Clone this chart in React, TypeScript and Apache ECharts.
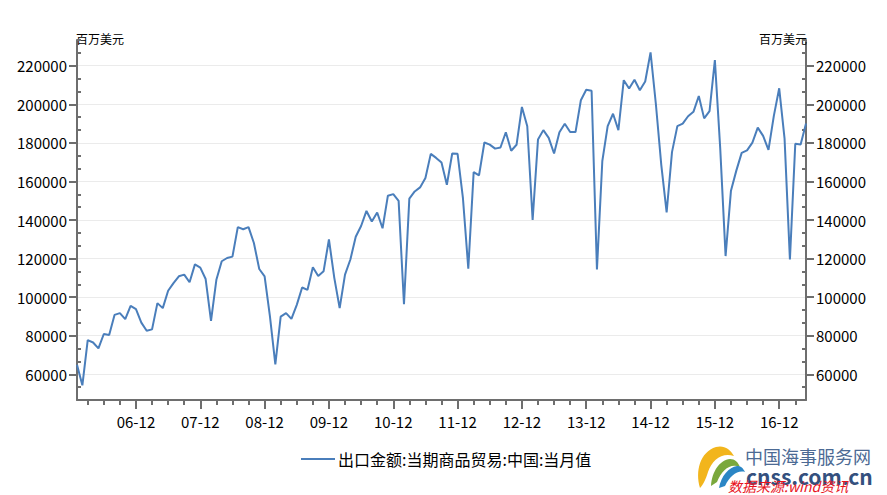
import React, { useEffect, useRef } from 'react';
import * as echarts from 'echarts';

const START_YEAR = 2006;
const SERIES_NAME = '出口金额:当期商品贸易:中国:当月值';
const UNIT = '百万美元';

// 百万美元, monthly from 2006-01 to 2017-05
const EXPORTS = [
  65000, 54300, 77700, 76500, 73400, 80900, 80400, 90800, 91700, 88600, 95500, 93800,
  86800, 82600, 83300, 96900, 94300, 103300, 107300, 110800, 111700, 107700, 117000, 115300,
  109400, 87700, 109000, 118600, 120300, 121000, 136300, 135200, 136300, 128100, 114600, 110800,
  89900, 65100, 89900, 91700, 88700, 96000, 105000, 103800, 115500, 111000, 113400, 129900,
  110000, 94300, 111700, 119500, 131300, 136900, 144700, 139200, 143900, 135700, 152600, 153400,
  149900, 96300, 151100, 154800, 156900, 161800, 174300, 172200, 169800, 158300, 174500, 174300,
  151300, 114800, 164800, 163100, 180200, 179100, 177000, 177600, 185500, 175900, 179000, 198600,
  188600, 140000, 181700, 186600, 182600, 174500, 185500, 189900, 185600, 185600, 202100, 207500,
  207000, 114300, 170500, 188700, 195100, 186600, 212500, 208200, 212700, 207300, 211800, 226900,
  199900, 168600, 143900, 175200, 188700, 190000, 193800, 196100, 204300, 192700, 196500, 222900,
  177000, 121300, 155200, 165600, 174800, 176100, 180100, 187900, 183600, 176400, 194000, 208300,
  182200, 119500, 179500, 179200, 190000,
];

const MAJOR_TICKS = [60000, 80000, 100000, 120000, 140000, 160000, 180000, 200000, 220000];
const MINOR_STEP = 20000 / 3;
const Y_MIN = 7 * MINOR_STEP;
const Y_MAX = 35 * MINOR_STEP;
const MINOR_TICKS: number[] = [];
for (let k = 7; k <= 35; k++) if (k % 3 !== 0) MINOR_TICKS.push(k * MINOR_STEP);

const MONTHS = EXPORTS.map((_, i) => {
  const y = START_YEAR + Math.floor(i / 12);
  const m = (i % 12) + 1;
  return `${String(y % 100).padStart(2, '0')}-${String(m).padStart(2, '0')}`;
});

const FONT = '"Noto Sans CJK SC", "Noto Sans", sans-serif';
const AXIS_COLOR = '#6e6e6e';
const LINE_COLOR = '#4a7ebb';

echarts.graphic.registerShape(
  'logoYellow',
  echarts.graphic.extendPath(
    'M700 488 C 695 471 700 452 716 447 C 724 445 730 449 734 456 C 722 452 712 460 708 472 C 706 479 703 485 700 488 Z',
    {}
  )
);
echarts.graphic.registerShape(
  'logoGreen',
  echarts.graphic.extendPath(
    'M711 486 C 712 471 720 460 730 459 C 735 459 738 462 740 467 C 730 463 722 470 717 482 Z',
    {}
  )
);
echarts.graphic.registerShape(
  'logoBlue',
  echarts.graphic.extendPath(
    'M719 488 C 721 476 729 467 737 466 C 741 466 743 468 745 472 C 737 470 730 476 725 486 Z',
    {}
  )
);

function minorY(position: 'left' | 'right') {
  return {
    type: 'value',
    position,
    min: Y_MIN,
    max: Y_MAX,
    axisLine: { show: true, lineStyle: { color: AXIS_COLOR, width: 2 } },
    axisTick: {
      show: true,
      inside: true,
      length: 4,
      customValues: MINOR_TICKS,
      lineStyle: { color: AXIS_COLOR, width: 2 },
    },
    axisLabel: { show: false },
    splitLine: { show: false },
  };
}

function majorY(position: 'left' | 'right') {
  return {
    type: 'value',
    position,
    min: Y_MIN,
    max: Y_MAX,
    name: UNIT,
    nameLocation: 'end',
    nameGap: 2,
    nameTextStyle: {
      fontFamily: FONT,
      fontSize: 12,
      color: '#000',
      align: position === 'left' ? 'left' : 'right',
      verticalAlign: 'middle',
      padding: position === 'left' ? [0, 0, 0, -1] : [0, -1, 0, 0],
    },
    axisLine: { show: false },
    axisTick: {
      show: true,
      inside: false,
      length: 8,
      customValues: MAJOR_TICKS,
      lineStyle: { color: AXIS_COLOR, width: 2 },
    },
    axisLabel: {
      show: true,
      customValues: MAJOR_TICKS,
      margin: 10,
      fontFamily: FONT,
      fontSize: 15,
      color: '#000',
      formatter: (v: number) => String(Math.round(v)),
    },
    splitLine: { show: true, lineStyle: { color: '#ebebeb', width: 1 } },
  };
}

export default function App() {
  const ref = useRef<HTMLDivElement>(null);

  useEffect(() => {
    document.body.style.margin = '0';
    if (!ref.current) return;
    const chart = echarts.init(ref.current, undefined, { renderer: 'svg' });
    chart.setOption({
      animation: false,
      backgroundColor: '#fff',
      grid: { left: 77, right: 81, top: 40, bottom: 95, containLabel: false },
      legend: {
        show: true,
        left: 296,
        top: 446,
        itemWidth: 34,
        itemHeight: 2,
        itemGap: 10,
        data: [{ name: SERIES_NAME, icon: 'rect' }],
        textStyle: { fontFamily: FONT, fontSize: 16, color: '#000', padding: [0, 0, 0, -2] },
      },
      xAxis: [
        {
          type: 'category',
          data: MONTHS,
          boundaryGap: false,
          position: 'bottom',
          axisLine: { show: true, lineStyle: { color: AXIS_COLOR, width: 2 } },
          axisTick: {
            show: true,
            inside: false,
            length: 5,
            interval: (index: number) => index % 3 === 2 && index % 12 !== 11,
            lineStyle: { color: AXIS_COLOR, width: 2 },
          },
          axisLabel: { show: false },
          splitLine: { show: false },
        },
        {
          type: 'category',
          data: MONTHS,
          boundaryGap: false,
          position: 'bottom',
          axisLine: { show: false },
          axisTick: {
            show: true,
            inside: false,
            length: 9,
            interval: (index: number) => index % 12 === 11,
            lineStyle: { color: AXIS_COLOR, width: 2 },
          },
          axisLabel: {
            show: true,
            interval: (index: number) => index % 12 === 11,
            margin: 14,
            fontFamily: FONT,
            fontSize: 15,
            color: '#000',
          },
          splitLine: { show: false },
        },
      ],
      yAxis: [minorY('left'), majorY('left'), minorY('right'), majorY('right')],
      series: [
        {
          name: SERIES_NAME,
          type: 'line',
          xAxisIndex: 0,
          yAxisIndex: 0,
          data: EXPORTS,
          showSymbol: false,
          symbol: 'none',
          smooth: false,
          color: LINE_COLOR,
          lineStyle: { color: LINE_COLOR, width: 2 },
          z: 3,
        },
      ],
      graphic: [
        { type: 'logoYellow', x: 0, y: 0, style: { fill: '#f2b51c' }, z: 10 },
        { type: 'logoGreen', x: 0, y: 0, style: { fill: '#7aa83c' }, z: 11 },
        { type: 'logoBlue', x: 0, y: 0, style: { fill: '#2b86c5' }, z: 12 },
        {
          type: 'text',
          left: 745,
          top: 447,
          z: 10,
          style: {
            text: '中国海事服务网',
            fill: '#4c6a94',
            font: `18px ${FONT}`,
          },
        },
        {
          type: 'text',
          left: 746,
          top: 465,
          z: 10,
          style: {
            text: 'cnss.com.cn',
            fill: '#34507e',
            font: `bold 21px ${FONT}`,
          },
        },
        {
          type: 'text',
          left: 728,
          top: 479,
          z: 12,
          style: {
            text: '数据来源:wind资讯',
            fill: '#e8141e',
            font: `italic 14px ${FONT}`,
          },
        },
      ],
    });
    return () => chart.dispose();
  }, []);

  return <div ref={ref} style={{ width: 887, height: 495 }} />;
}
